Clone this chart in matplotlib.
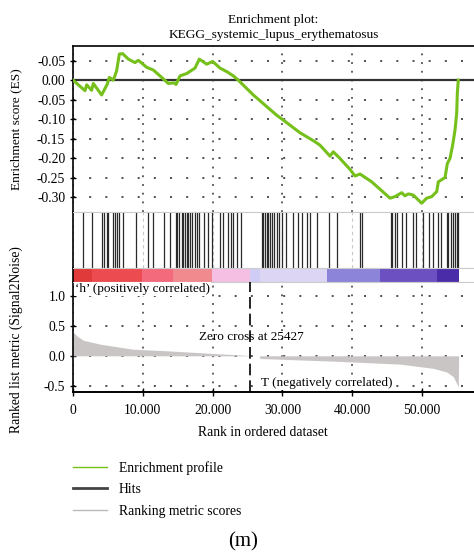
import numpy as np
import matplotlib
matplotlib.use("Agg")
import matplotlib.pyplot as plt
from matplotlib.lines import Line2D

plt.rcParams['font.family'] = ['Liberation Serif', 'DejaVu Serif']
plt.rcParams['font.size'] = 9.5

# running enrichment score
es_rank = [0, 1720, 1960, 2670, 2910, 4100, 4920, 5200, 5780, 6250, 6640, 7110,
           7930, 8880, 9360, 10550, 11510, 12460, 13660, 14470, 14760, 15330,
           16290, 17480, 18100, 19150, 20010, 21060, 22020, 22970, 23680, 25830,
           29180, 30610, 32520, 34670, 35390, 36820, 37290, 38250, 39680, 40400,
           41120, 42790, 45420, 46130, 47090, 47560, 48040, 48750, 49950, 50670,
           51390, 52110, 52340, 53300, 53630, 54010, 54390, 54730, 54970, 55060,
           55200]
es_val = [0.0, -0.027, -0.012, -0.026, -0.0085, -0.038, -0.010, 0.007, 0.0,
          0.024, 0.067, 0.068, 0.054, 0.045, 0.051, 0.033, 0.026, 0.011,
          -0.0085, -0.007, -0.011, 0.011, 0.017, 0.031, 0.054, 0.041, 0.048,
          0.031, 0.022, 0.011, 0.0, -0.038, -0.090, -0.109, -0.135, -0.158,
          -0.167, -0.195, -0.184, -0.201, -0.229, -0.246, -0.241, -0.261,
          -0.303, -0.299, -0.289, -0.297, -0.292, -0.295, -0.316, -0.303,
          -0.299, -0.286, -0.261, -0.250, -0.214, -0.201, -0.167, -0.128,
          -0.085, -0.034, 0.0]

# positions of gene set members in the ranked list
hit_rank = [1480, 2670, 4200, 4490, 4820, 5060, 5780, 6020, 6350, 6590, 7210,
            8980, 10790, 11410, 13090, 13900, 14760, 14950, 15230, 15570, 15810,
            16050, 16280, 16520, 16760, 17100, 17480, 17810, 18050, 18770, 19390,
            19960, 21060, 21440, 22250, 22590, 22970, 23450, 24020, 27030, 27270,
            27510, 27750, 27980, 28220, 28460, 28800, 29180, 29560, 29890, 30520,
            31570, 32190, 32760, 33480, 33950, 35000, 36720, 37870, 41120, 41360,
            45510, 45750, 46130, 46370, 47090, 47710, 48760, 49140, 50190, 51050,
            51620, 52340, 52670, 53530, 53770, 54100, 54490, 54730, 54970, 55200]

# ranked list metric (signal to noise)
metric_rank = [0, 600, 1480, 3870, 8640, 13420, 20100, 25360, 25427, 26700,
               26790, 37300, 46850, 51620, 53530, 54490, 55200, 55250]
metric_val = [0.40, 0.33, 0.26, 0.195, 0.11, 0.084, 0.039, 0.005, 0.0, 0.0,
              -0.045, -0.089, -0.139, -0.21, -0.27, -0.35, -0.52, 0.0]

zero_cross = 25427

# heat bar under the hits
band_edges = [0, 2720, 9930, 14330, 19960, 25360, 26790, 36390, 43980, 52150, 55340]
band_colors = ['#e03a3a', '#ec4b4f', '#f26a7c', '#f08a8e', '#f5bfe4',
               '#cfcdf5', '#dcd5f4', '#8c84d8', '#6c50c2', '#4a2ca8']

x_ticks = [0, 10000, 20000, 30000, 40000, 50000]
x_labels = ['0', '10.000', '20.000', '30.000', '40.000', '50.000']
es_ticks = [0.05, 0.0, -0.05, -0.10, -0.15, -0.20, -0.25, -0.30]
es_labels = ['-0.05', '0.00', '-0.05', '-0.10', '-0.15', '-0.20', '-0.25', '-0.30']
metric_ticks = [1.0, 0.5, 0.0, -0.5]
metric_labels = ['1.0', '0.5', '0.0', '-0.5']

W, H = 474, 552
fig = plt.figure(figsize=(W / 100, H / 100), dpi=100)


def box(top, bottom):
    return [73 / W, 1 - bottom / H, (W - 73) / W, (bottom - top) / H]


xmax = 57450
green = '#76c01b'
hdots = (0, (1.2, 8.5))
vdots = (0, (1.2, 4.5))
tick_fs = 9.8

ax_es = fig.add_axes(box(46, 212))
ax_hit = fig.add_axes(box(212, 268), sharex=ax_es)
ax_bar = fig.add_axes(box(268, 282), sharex=ax_es)
ax_m = fig.add_axes(box(282, 391.7), sharex=ax_es)

for ax in (ax_es, ax_hit, ax_bar, ax_m):
    ax.set_xlim(0, xmax)
    ax.spines['right'].set_visible(False)
    ax.spines['left'].set_color('black')
    ax.spines['left'].set_linewidth(1.2)
    ax.set_axisbelow(True)
    ax.set_xticks(x_ticks)
    ax.tick_params(axis='x', which='both', bottom=False, labelbottom=False)

# --- enrichment score panel
ax_es.set_ylim(-0.3385, 0.0877)
ax_es.set_yticks(es_ticks)
ax_es.set_yticklabels(es_labels)
ax_es.tick_params(axis='y', direction='inout', length=5, width=1, pad=3,
                  labelsize=tick_fs)
ax_es.grid(True, axis='y', color='#333333', linestyle=hdots, linewidth=1.2)
ax_es.grid(True, axis='x', color='#333333', linestyle=vdots, linewidth=1.1)
ax_es.axhline(0, color='#333333', linewidth=1.6, zorder=2)
ax_es.plot(es_rank, es_val, color=green, linewidth=2.2, zorder=3)
ax_es.spines['top'].set_linewidth(1.2)
ax_es.spines['bottom'].set_color('#cccccc')
ax_es.set_title('Enrichment plot:\nKEGG_systemic_lupus_erythematosus',
                fontsize=9.6, linespacing=1.3, pad=6)

# --- hits panel
ax_hit.set_ylim(0, 1)
ax_hit.set_yticks([])
ax_hit.grid(True, axis='x', color='#c8c8c8', linestyle=(0, (3, 3)), linewidth=0.8)
ax_hit.vlines(hit_rank, 0, 1, color='#2a2a2a', linewidth=0.9)
for s in ('top', 'bottom'):
    ax_hit.spines[s].set_color('#cccccc')

# --- heat bar
ax_bar.set_ylim(0, 1)
ax_bar.set_yticks([])
lefts = band_edges[:-1]
widths = np.diff(band_edges)
ax_bar.bar(lefts, 1, width=widths, align='edge', color=band_colors, linewidth=0)
for s in ('top', 'bottom'):
    ax_bar.spines[s].set_color('#cccccc')

# --- ranked list metric
ax_m.set_ylim(-0.60, 1.234)
ax_m.set_yticks(metric_ticks)
ax_m.set_yticklabels(metric_labels)
ax_m.tick_params(axis='y', direction='inout', length=5, width=1, pad=3,
                 labelsize=tick_fs)
ax_m.tick_params(axis='x', bottom=True, labelbottom=True, direction='inout',
                 length=6, width=1, pad=6, labelsize=tick_fs)
ax_m.set_xticklabels(x_labels)
ax_m.grid(True, axis='y', color='#333333', linestyle=hdots, linewidth=1.2)
ax_m.grid(True, axis='x', color='#333333', linestyle=vdots, linewidth=1.1)
ax_m.fill_between(metric_rank, metric_val, 0, color='#c9c5c5', linewidth=0, zorder=2)
ax_m.axvline(zero_cross, color='black', linestyle=(0, (7, 3)), linewidth=1.2, zorder=3)
ax_m.spines['top'].set_color('#cccccc')
ax_m.spines['bottom'].set_linewidth(1.4)
ax_m.text(300, 1.115, '\u2018h\u2019 (positively correlated)', ha='left', va='center',
          fontsize=9.5, zorder=4,
          bbox=dict(facecolor='white', edgecolor='none', pad=0.6))
ax_m.text(25600, 0.318, 'Zero cross at {}'.format(zero_cross), ha='center',
          va='center', fontsize=9.5, zorder=2)
ax_m.text(36340, -0.45, 'T (negatively correlated)', ha='center', va='center',
          fontsize=9.5, zorder=4,
          bbox=dict(facecolor='white', edgecolor='none', pad=0.6))

# axis labels
fig.text(16 / W, 1 - 129 / H, 'Enrichment score (ES)', rotation=90,
         ha='center', va='center', fontsize=9.6)
fig.text(16 / W, 1 - 340 / H, 'Ranked list metric (Signal2Noise)', rotation=90,
         ha='center', va='center', fontsize=9.8)
fig.text(263 / W, 1 - 433 / H, 'Rank in ordered dataset', ha='center',
         va='center', fontsize=9.8)

# legend
handles = [Line2D([], [], color=green, linewidth=1.0),
           Line2D([], [], color='#444444', linewidth=2.0),
           Line2D([], [], color='#bbbbbb', linewidth=1.0)]
fig.legend(handles, ['Enrichment profile', 'Hits', 'Ranking metric scores'],
           loc='upper left', bbox_to_anchor=(73 / W, 1 - 461 / H),
           frameon=False, fontsize=9.8, borderpad=0, borderaxespad=0,
           handlelength=2.5, handletextpad=0.85, labelspacing=0.62)

fig.text(243 / W, 1 - 542 / H, '(m)', ha='center', va='center', fontsize=15)

fig.savefig('out.png', dpi=100)
